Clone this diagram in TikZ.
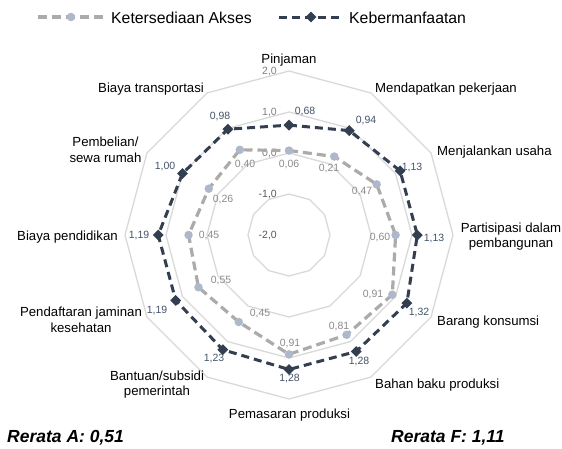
\documentclass[tikz,border=0pt]{standalone}
\usepackage{fontspec}
\setmainfont{Liberation Sans}
\usetikzlibrary{shapes.geometric}
\definecolor{gridc}{HTML}{D9D9D9}
\definecolor{serA}{HTML}{AEAAAA}
\definecolor{mkA}{HTML}{ADB9CA}
\definecolor{serF}{HTML}{333F50}
\definecolor{lblA}{HTML}{8C8C8C}
\definecolor{lblF}{HTML}{44546A}
\definecolor{axc}{HTML}{808080}
\definecolor{axd}{HTML}{595959}
\begin{document}
\begin{tikzpicture}[x=1pt,y=-1pt,
  gridline/.style={draw=gridc, line width=1.3pt},
  lineA/.style={draw=serA, line width=3.2pt, dash pattern=on 9pt off 5pt},
  lineF/.style={draw=serF, line width=3pt, dash pattern=on 8pt off 5pt},
  markA/.style={circle, fill=mkA, inner sep=0pt, minimum size=8.5pt},
  markF/.style={diamond, fill=serF, inner sep=0pt, minimum size=11pt},
  cat/.style={font=\fontsize{13.2}{15.5}\selectfont, text=black, align=center, inner sep=0pt},
  valA/.style={font=\fontsize{10.5}{12}\selectfont, text=lblA, inner sep=0pt},
  valF/.style={font=\fontsize{10.5}{12}\selectfont, text=lblF, inner sep=0pt},
  axlbl/.style={font=\fontsize{10.5}{12}\selectfont, text=axc, inner sep=0pt, anchor=east},
  leg/.style={font=\fontsize{15.8}{18}\selectfont, text=black, inner sep=0pt, anchor=west},
  rerata/.style={font=\fontsize{17.5}{20}\selectfont\bfseries\itshape, text=black, inner sep=0pt, anchor=west}
]
\useasboundingbox (0,0) rectangle (562,448);
\fill[white] (0,0) rectangle (562,448);

% grid rings
\foreach \r in {41,82,123,164}{
  \draw[gridline] ({289+\r*cos(90)},{235-\r*sin(90)})
    \foreach \i in {1,...,11}{ -- ({289+\r*cos(90-30*\i)},{235-\r*sin(90-30*\i)}) } -- cycle;
}

% axis labels
\node[axlbl] (ax2) at (277,71.7) {2,0};
\node[axlbl] (ax1) at (277,112.7) {1,0};
\node[axlbl] (ax0) at (277,153.7) {0,0};
\node[axlbl, text=axd] (axm1) at (277,194) {-1,0};
\node[axlbl, text=axd] (axm2) at (277,235) {-2,0};

% data coordinates
\foreach \v [count=\i from 0] in {0.06,0.21,0.47,0.60,0.91,0.81,0.91,0.45,0.55,0.45,0.26,0.40}{
  \coordinate (a\i) at ({289+(\v+2)*41*cos(90-30*\i)},{235-(\v+2)*41*sin(90-30*\i)});
}
\foreach \v [count=\i from 0] in {0.68,0.94,1.13,1.13,1.32,1.28,1.28,1.23,1.19,1.19,1.00,0.98}{
  \coordinate (f\i) at ({289+(\v+2)*41*cos(90-30*\i)},{235-(\v+2)*41*sin(90-30*\i)});
}

% series lines
\draw[lineA] (a0) \foreach \i in {1,...,11}{ -- (a\i) } -- cycle;
\draw[lineF] (f0) \foreach \i in {1,...,11}{ -- (f\i) } -- cycle;

% markers
\foreach \i in {0,...,11}{
  \node[markA] (ma\i) at (a\i) {};
  \node[markF] (mf\i) at (f\i) {};
}

% data labels A
\node[valA] (la0) at (289,164) {0,06};
\node[valA] (la1) at (329,168) {0,21};
\node[valA] (la2) at (362,191) {0,47};
\node[valA] (la3) at (380,237) {0,60};
\node[valA] (la4) at (373,294) {0,91};
\node[valA] (la5) at (339,326) {0,81};
\node[valA] (la6) at (290,343) {0,91};
\node[valA] (la7) at (260,313) {0,45};
\node[valA] (la8) at (221,280) {0,55};
\node[valA] (la9) at (209,235) {0,45};
\node[valA] (la10) at (223,199) {0,26};
\node[valA] (la11) at (245,164) {0,40};

% data labels F
\node[valF] (lf0) at (305,112) {0,68};
\node[valF] (lf1) at (366,121) {0,94};
\node[valF] (lf2) at (412,167) {1,13};
\node[valF] (lf3) at (434,238) {1,13};
\node[valF] (lf4) at (419,312) {1,32};
\node[valF] (lf5) at (359,361) {1,28};
\node[valF] (lf6) at (289.5,378.5) {1,28};
\node[valF] (lf7) at (214,358) {1,23};
\node[valF] (lf8) at (157,310) {1,19};
\node[valF] (lf9) at (139,235) {1,19};
\node[valF] (lf10) at (165,166) {1,00};
\node[valF] (lf11) at (220,117) {0,98};

% category labels
\node[cat, anchor=base] (c0) at (289,63) {Pinjaman};
\node[cat, anchor=base west] (c1) at (375,92) {Mendapatkan pekerjaan};
\node[cat, anchor=base west] (c2) at (437,155) {Menjalankan usaha};
\node[cat, anchor=north] (c3) at (511,222.5) {Partisipasi dalam\\pembangunan};
\node[cat, anchor=base west] (c4) at (437,325) {Barang konsumsi};
\node[cat, anchor=base west] (c5) at (375,388) {Bahan baku produksi};
\node[cat, anchor=base] (c6) at (289.5,418) {Pemasaran produksi};
\node[cat, anchor=north] (c7) at (157,370.5) {Bantuan/subsidi\\pemerintah};
\node[cat, anchor=north] (c8) at (81,307) {Pendaftaran jaminan\\kesehatan};
\node[cat, anchor=base west] (c9) at (17,240) {Biaya pendidikan};
\node[cat, anchor=north] (c10) at (105.5,137) {Pembelian/\\sewa rumah};
\node[cat, anchor=base west] (c11) at (98,92) {Biaya transportasi};

% legend
\coordinate (lA1) at (38,17);
\coordinate (lA2) at (104,17);
\draw[lineA] (lA1) -- (lA2);
\node[markA] (lmA) at (71,17) {};
\node[leg] (ltA) at (111,17.5) {Ketersediaan Akses};
\coordinate (lF1) at (279,17);
\coordinate (lF2) at (343,17);
\draw[lineF] (lF1) -- (lF2);
\node[markF] (lmF) at (311,17) {};
\node[leg] (ltF) at (349,17.5) {Kebermanfaatan};

% averages
\node[rerata] (rA) at (7,438) {Rerata A: 0,51};
\node[rerata] (rF) at (391,438) {Rerata F: 1,11};
\end{tikzpicture}
\end{document}
